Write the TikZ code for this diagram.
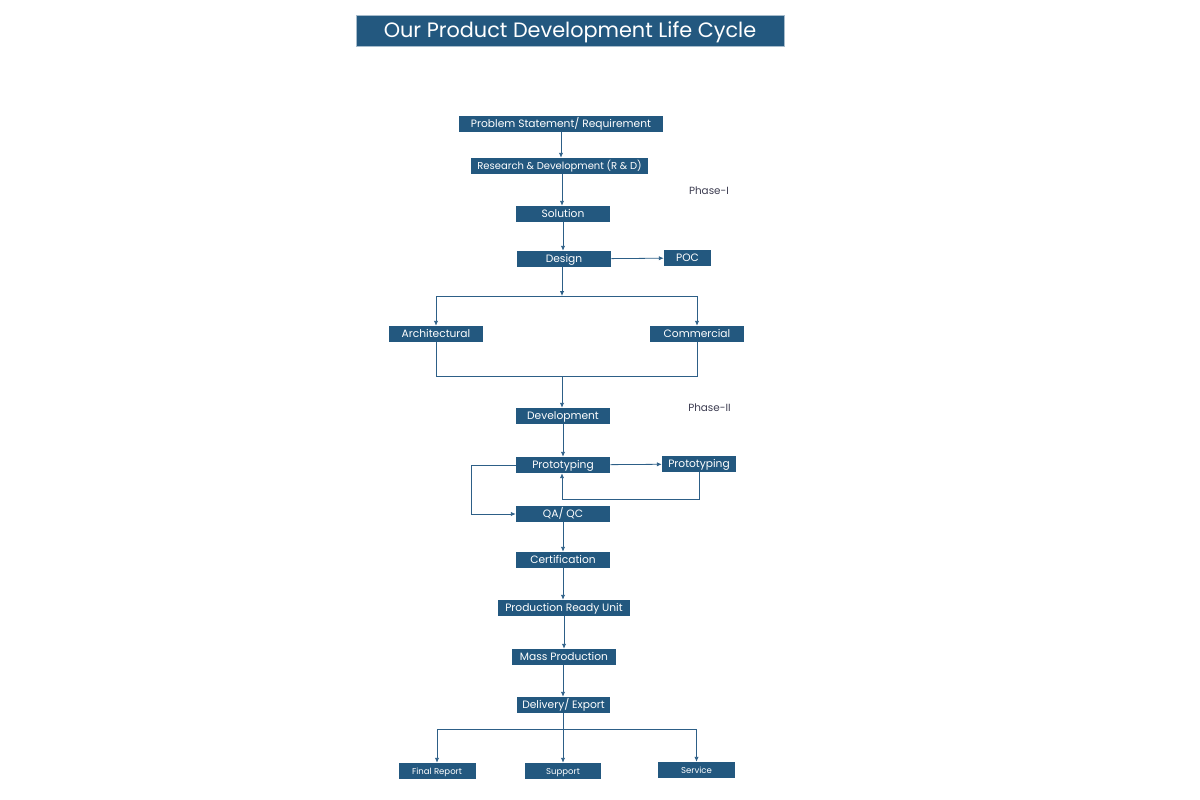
\documentclass[tikz,border=0pt]{standalone}
\usepackage{fontspec}
\setmainfont{Poppins}
\usetikzlibrary{arrows.meta}
\definecolor{bx}{RGB}{35,88,127}
\definecolor{ln}{RGB}{45,95,135}
\definecolor{ph}{RGB}{60,60,80}
\tikzset{
  bx/.style={fill=bx,text=white,inner sep=0pt,minimum height=12pt,text height=6.7pt,text depth=1.2pt,font=\fontsize{8}{9.5}\selectfont,minimum width=#1*0.75pt},
  sbx/.style={bx=#1,font=\fontsize{6.4}{8}\selectfont,text height=5.5pt,text depth=1pt},
  arr/.style={draw=ln,line width=0.6pt,-{Latex[length=3.6pt,width=3.2pt]}},
  ln/.style={draw=ln,line width=0.6pt},
  phase/.style={text=ph,font=\fontsize{7.8}{9}\selectfont,inner sep=0pt}
}
\begin{document}
\begin{tikzpicture}[x=0.75pt,y=-0.75pt]
\useasboundingbox (0,0) rectangle (1200,800);
% title
\node[fill=bx,draw=bx!40!white,line width=0.5pt,text=white,minimum width=428*0.75pt,minimum height=31*0.75pt,inner sep=0pt,text height=12pt,text depth=1.5pt,font=\fontsize{15.6}{18}\selectfont] (title) at (570,30.5) {Our Product Development Life Cycle};
% nodes
\node[bx=204] (prob) at (561,124) {Problem Statement/ Requirement};
\node[bx=177,font=\fontsize{7.5}{9}\selectfont] (rd) at (559.5,166) {Research \& Development (R \& D)};
\node[bx=94] (sol) at (563,214) {Solution};
\node[bx=94] (des) at (564,259) {Design};
\node[bx=47] (poc) at (687.5,258) {POC};
\node[bx=94] (arch) at (436,334) {Architectural};
\node[bx=94] (comm) at (697,334) {Commercial};
\node[bx=94] (dev) at (563,416) {Development};
\node[bx=94] (proto) at (563,465) {Prototyping};
\node[bx=74] (proto2) at (699,464) {Prototyping};
\node[bx=94] (qa) at (563,514) {QA/ QC};
\node[bx=94] (cert) at (563,560) {Certification};
\node[bx=132] (pru) at (564,608) {Production Ready Unit};
\node[bx=104] (mass) at (564,657) {Mass Production};
\node[bx=93] (del) at (563.5,705) {Delivery/ Export};
\node[sbx=77] (fin) at (437,771) {Final Report};
\node[sbx=76] (sup) at (563,771) {Support};
\node[sbx=77] (ser) at (696.5,770) {Service};
\node[phase] (p1) at (709,191) {Phase-I};
\node[phase] (p2) at (709.5,408) {Phase-II};
% junctions
\coordinate (j1) at (562,296);
\coordinate (j2) at (562,376);
\coordinate (j3) at (562,499);
\coordinate (j4) at (471,465);
\coordinate (j5) at (563,729);
\coordinate (c1) at (563,0);
% connectors
\draw[arr] (prob.south -| 561,0) -- (rd.north -| 561,0);
\draw[arr] (rd.south -| 562,0) -- (sol.north -| 562,0);
\draw[arr] (sol.south -| c1) -- (des.north -| c1);
\draw[arr] (des) -- (poc);
\draw[arr] (des.south -| j1) -- (j1);
\draw[arr] (j1) -| (arch.north);
\draw[arr] (j1) -| (comm.north);
\draw[ln] (arch.south) |- (j2);
\draw[ln] (comm.south) |- (j2);
\draw[arr] (j2) -- (dev.north -| j2);
\draw[arr] (dev) -- (proto);
\draw[arr] (proto) -- (proto2);
\draw[ln] (proto2.south) |- (j3);
\draw[arr] (j3) -- (proto.south -| j3);
\draw[ln] (proto.west) -- (j4);
\draw[arr] (j4) |- (qa.west);
\draw[arr] (qa) -- (cert);
\draw[arr] (cert.south -| c1) -- (pru.north -| c1);
\draw[arr] (pru) -- (mass);
\draw[arr] (mass.south -| c1) -- (del.north -| c1);
\draw[ln] (del.south -| j5) -- (j5);
\draw[arr] (j5) -| (fin.north);
\draw[arr] (j5) -- (sup.north -| j5);
\draw[arr] (j5) -| (ser.north);
\end{tikzpicture}
\end{document}
